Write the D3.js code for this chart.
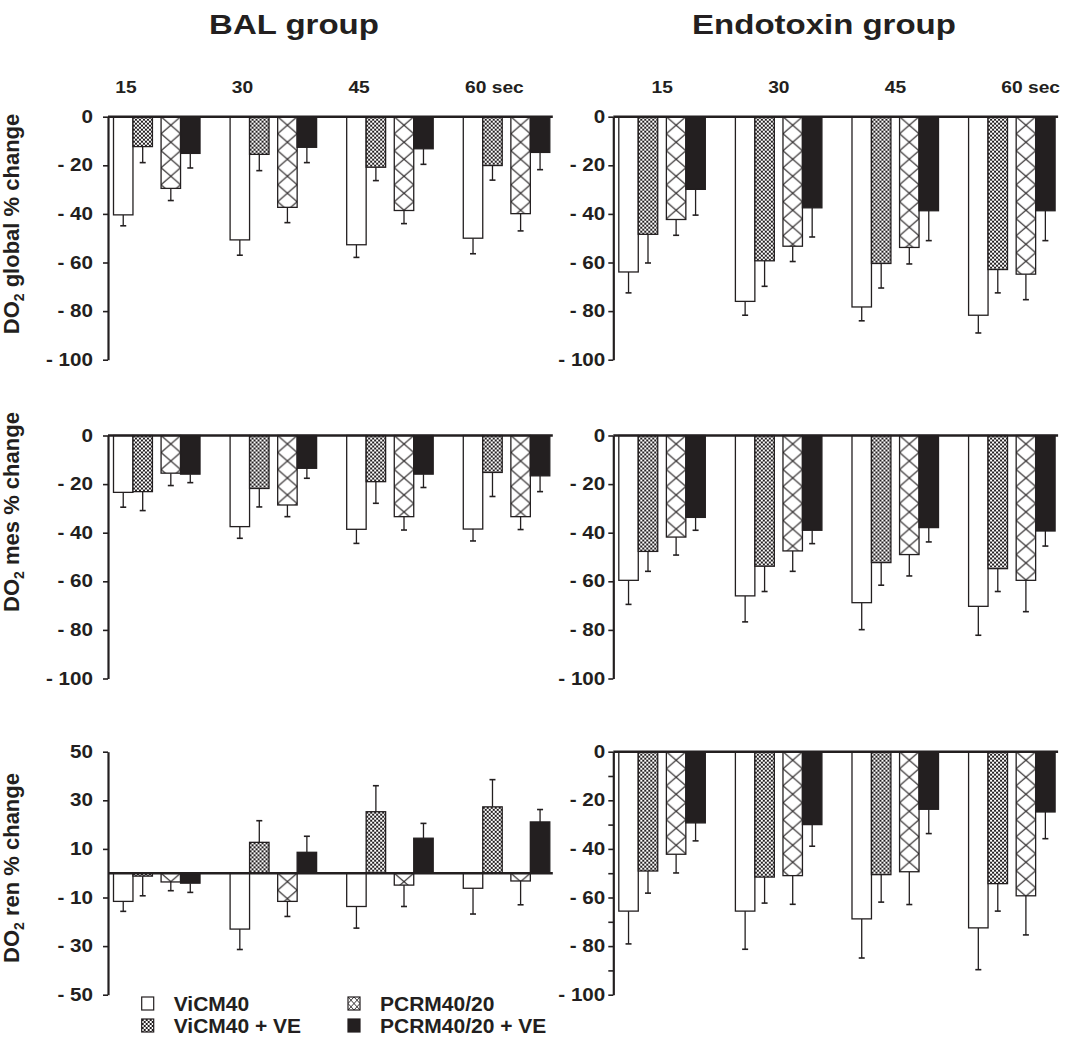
<!DOCTYPE html>
<html>
<head>
<meta charset="utf-8">
<script src="https://cdn.jsdelivr.net/npm/d3@7"></script>
<style>
  body { margin: 0; background: #fff; }
  svg text { font-family: "Liberation Sans", Arial, sans-serif; font-weight: bold; fill: #231f20; }
</style>
</head>
<body>
<div id="chart"></div>
<script>
const times = ["15", "30", "45", "60"];
const series = ["ViCM40", "ViCM40 + VE", "PCRM40/20", "PCRM40/20 + VE"];
const groupTitles = ["BAL group", "Endotoxin group"];
const rowLabels = ["global", "mes", "ren"];

// each array: one row per series, one column per time (15, 30, 45, 60 sec)
const balGlobalMean = [[-40.4, -50.7, -52.7, -50.0], [-12.3, -15.5, -20.8, -20.1], [-29.5, -37.3, -38.6, -39.9], [-15.1, -12.6, -13.2, -14.7]];
const balGlobalErr  = [[4.5, 6.3, 5.2, 6.4], [6.6, 6.7, 5.5, 6.0], [5.0, 6.3, 5.4, 7.1], [6.0, 6.3, 6.4, 7.1]];
const endoGlobalMean = [[-63.9, -76.0, -78.3, -81.7], [-48.4, -59.3, -60.4, -62.9], [-42.3, -53.3, -53.8, -64.8], [-29.9, -37.5, -38.7, -38.7]];
const endoGlobalErr  = [[8.6, 5.7, 5.7, 7.3], [11.8, 10.5, 10.1, 9.6], [6.5, 6.3, 6.8, 10.5], [10.6, 12.0, 12.3, 12.3]];
const balMesMean = [[-23.4, -37.5, -38.6, -38.5], [-23.1, -21.8, -19.0, -15.2], [-15.5, -28.6, -33.4, -33.4], [-15.9, -13.5, -15.9, -16.6]];
const balMesErr  = [[6.1, 4.8, 5.8, 4.9], [7.8, 7.6, 8.9, 9.9], [5.1, 4.8, 5.5, 5.3], [3.5, 4.1, 5.5, 6.5]];
const endoMesMean = [[-59.6, -66.0, -68.8, -70.3], [-47.7, -53.8, -52.3, -54.8], [-41.8, -47.5, -49.0, -59.6], [-33.7, -39.0, -37.9, -39.3]];
const endoMesErr  = [[9.9, 10.7, 11.1, 11.9], [8.2, 10.4, 9.3, 9.4], [7.4, 8.4, 8.8, 12.9], [5.3, 5.5, 5.9, 6.2]];
const balRenMean = [[-11.6, -23.0, -13.7, -6.2], [-1.2, 12.7, 25.3, 27.3], [-3.6, -11.6, -4.9, -3.2], [-4.1, 8.6, 14.4, 21.1]];
const balRenErr  = [[4.1, 8.4, 8.9, 10.6], [8.1, 8.9, 10.7, 11.2], [3.6, 6.2, 8.8, 9.8], [3.8, 6.6, 6.1, 5.1]];
const endoRenMean = [[-65.6, -65.6, -68.8, -72.5], [-49.1, -51.6, -50.6, -54.3], [-42.2, -51.0, -49.4, -59.3], [-29.3, -30.0, -23.7, -24.8]];
const endoRenErr  = [[13.5, 15.7, 16.1, 17.2], [9.1, 10.7, 11.3, 11.3], [7.7, 11.8, 13.5, 16.1], [7.4, 8.9, 10.0, 11.0]];

const pctTicks = [0, -20, -40, -60, -80, -100];
const renTicks = [50, 30, 10, -10, -30, -50];
const minorTicks = [-10, -30, -50, -70, -90];

const ink = "#231f20";
const width = 1067, height = 1037;
const colX = [108, 613.3];
const rowY = [116.7, 435.5, 751.7];
const panelH = 243;
const headerShift = [-31, 0];
const tickPad = [10, 3];

const panels = [
  {col: 0, row: 0, mean: balGlobalMean, err: balGlobalErr, domain: [0, -100], ticks: pctTicks},
  {col: 1, row: 0, mean: endoGlobalMean, err: endoGlobalErr, domain: [0, -100], ticks: pctTicks},
  {col: 0, row: 1, mean: balMesMean, err: balMesErr, domain: [0, -100], ticks: pctTicks},
  {col: 1, row: 1, mean: endoMesMean, err: endoMesErr, domain: [0, -100], ticks: pctTicks},
  {col: 0, row: 2, mean: balRenMean, err: balRenErr, domain: [50, -50], ticks: renTicks},
  {col: 1, row: 2, mean: endoRenMean, err: endoRenErr, domain: [0, -100], ticks: pctTicks, minor: minorTicks}
];

const fmt = d => d < 0 ? "- " + Math.abs(d) : String(d);

const svg = d3.select("#chart").append("svg")
    .attr("width", width)
    .attr("height", height);

svg.append("rect").attr("width", width).attr("height", height).attr("fill", "#fff");

// group scale (same geometry in both columns)
const makeX = ax => d3.scaleBand().domain(times)
    .range([ax + 5.5, ax + 5.5 + 436.3])
    .paddingInner(0.258).paddingOuter(0).align(0);

const bw = makeX(0).bandwidth();
const barW = bw * 0.225;
const pairGap = bw - 4 * barW;
const barOffset = i => i * barW + (i >= 2 ? pairGap : 0);

// patterns
const defs = svg.append("defs");
const checker = defs.append("pattern").attr("id", "checker")
    .attr("patternUnits", "userSpaceOnUse").attr("width", 4).attr("height", 4);
checker.append("rect").attr("width", 4).attr("height", 4).attr("fill", "#fff");
checker.append("rect").attr("width", 2).attr("height", 2).attr("fill", ink);
checker.append("rect").attr("x", 2).attr("y", 2).attr("width", 2).attr("height", 2).attr("fill", ink);

const crossH = 17;
const cross = defs.append("pattern").attr("id", "cross")
    .attr("patternUnits", "userSpaceOnUse").attr("width", barW).attr("height", crossH);
cross.append("rect").attr("width", barW).attr("height", crossH).attr("fill", "#fff");
cross.append("path").attr("d", `M0,0L${barW},${crossH}M${barW},0L0,${crossH}`)
    .attr("stroke", ink).attr("stroke-width", 1.1).attr("fill", "none");

const crossSmall = defs.append("pattern").attr("id", "crossSmall")
    .attr("patternUnits", "userSpaceOnUse").attr("width", 12).attr("height", 13);
crossSmall.append("rect").attr("width", 12).attr("height", 13).attr("fill", "#fff");
crossSmall.append("path").attr("d", "M0,0L12,13M12,0L0,13M6,0L12,6.5L6,13L0,6.5Z")
    .attr("stroke", ink).attr("stroke-width", 0.9).attr("fill", "none");

const fills = ["#fff", "url(#checker)", "url(#cross)", ink];

// titles
groupTitles.forEach((t, c) => {
    const cx = c === 0 ? 294 : 824;
    svg.append("text")
        .attr("text-anchor", "middle")
        .attr("transform", `translate(${cx},34) scale(1.2,1)`)
        .style("font-size", "27.5px")
        .text(t);
});

// time headers
[0, 1].forEach(c => {
    const x = makeX(colX[c]);
    times.forEach((t, i) => {
        const cx = x(t) + x.bandwidth() / 2 + headerShift[c] - 10.5;
        svg.append("text")
            .attr("transform", `translate(${cx},93) scale(1.2,1)`)
            .style("font-size", "16px")
            .text(i === times.length - 1 ? t + " sec" : t);
    });
});

// row labels
const labelCenters = [224, 512, 868];
rowLabels.forEach((lab, r) => {
    const t = svg.append("text")
        .attr("text-anchor", "middle")
        .attr("transform", `translate(19,${labelCenters[r]}) rotate(-90)`)
        .style("font-size", "22px");
    t.append("tspan").text("DO");
    t.append("tspan").attr("dy", 5).style("font-size", "14px").text("2");
    t.append("tspan").attr("dy", -5).text(" " + lab + " % change");
});

// panels
panels.forEach(p => {
    const ax = colX[p.col];
    const top = rowY[p.row];
    const x = makeX(ax);
    const y = d3.scaleLinear().domain(p.domain).range([top, top + panelH]);
    const g = svg.append("g");

    // error bars
    series.forEach((s, i) => {
        times.forEach((t, j) => {
            const v = p.mean[i][j];
            const e = p.err[i][j];
            const cx = x(t) + barOffset(i) + barW / 2;
            const yEnd = y(v + Math.sign(v) * e);
            g.append("line")
                .attr("x1", cx).attr("x2", cx)
                .attr("y1", y(v)).attr("y2", yEnd)
                .attr("stroke", ink).attr("stroke-width", 1.3);
            g.append("line")
                .attr("x1", cx - 3).attr("x2", cx + 3)
                .attr("y1", yEnd).attr("y2", yEnd)
                .attr("stroke", ink).attr("stroke-width", 1.6);
        });
    });

    // bars
    series.forEach((s, i) => {
        times.forEach((t, j) => {
            const v = p.mean[i][j];
            const y0 = Math.min(y(0), y(v));
            const h = Math.abs(y(v) - y(0));
            g.append("g")
                .attr("transform", `translate(${x(t) + barOffset(i)},${y0})`)
                .append("rect")
                .attr("width", barW).attr("height", h)
                .attr("fill", fills[i])
                .attr("stroke", ink).attr("stroke-width", 1.3);
        });
    });

    // zero line
    g.append("line")
        .attr("x1", ax).attr("x2", x.range()[1] + 3)
        .attr("y1", y(0)).attr("y2", y(0))
        .attr("stroke", ink).attr("stroke-width", 2.6);

    // axis
    const sx = 1.18;
    const axisG = g.append("g").attr("transform", `translate(${ax},0)`)
        .call(d3.axisLeft(y).tickValues(p.ticks).tickSize(5).tickSizeOuter(0)
            .tickPadding(tickPad[p.col]).tickFormat(fmt));
    axisG.select(".domain").attr("stroke", ink).attr("stroke-width", 2.2);
    axisG.selectAll(".tick line").attr("stroke", ink).attr("stroke-width", 1.6);
    axisG.selectAll(".tick text")
        .style("font-size", "17.5px")
        .attr("fill", ink)
        .attr("x", -(5 + tickPad[p.col]) / sx)
        .attr("transform", `scale(${sx},1)`);

    if (p.minor) {
        const minorG = g.append("g").attr("transform", `translate(${ax},0)`)
            .call(d3.axisLeft(y).tickValues(p.minor).tickSize(5).tickSizeOuter(0).tickFormat(""));
        minorG.select(".domain").remove();
        minorG.selectAll(".tick line").attr("stroke", ink).attr("stroke-width", 1.6);
    }
});

// legend
const legendFills = ["#fff", "url(#checker)", "url(#crossSmall)", ink];
const legendPos = [[141.7, 997], [141.7, 1019], [348, 997], [348, 1019]];
series.forEach((s, i) => {
    const [lx, ly] = legendPos[i];
    svg.append("g").attr("transform", `translate(${lx},${ly})`)
        .append("rect")
        .attr("width", 12).attr("height", 13)
        .attr("fill", legendFills[i])
        .attr("stroke", ink).attr("stroke-width", 1.2);
    svg.append("text")
        .attr("x", lx + 32).attr("y", ly + 14)
        .style("font-size", "21px")
        .text(s);
});
</script>
</body>
</html>
